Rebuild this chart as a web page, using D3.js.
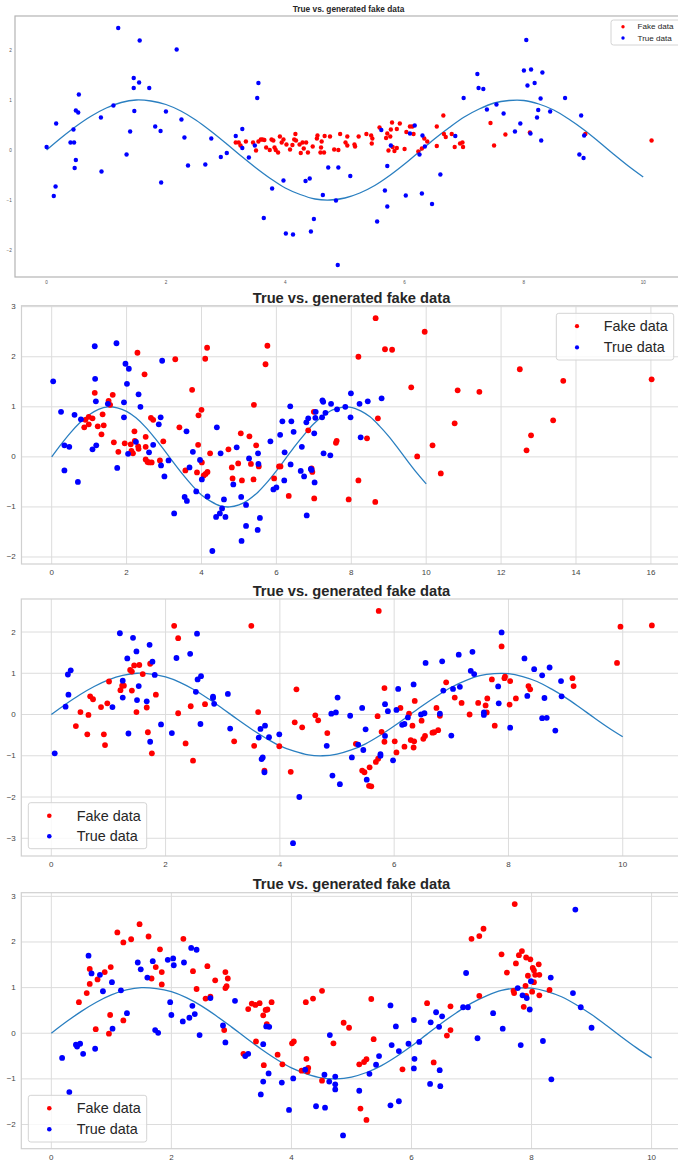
<!DOCTYPE html>
<html><head><meta charset="utf-8">
<script src="https://cdn.jsdelivr.net/npm/d3@7"></script>
<style>
body{margin:0;background:#fff}
svg{display:block;font-family:"Liberation Sans",Arial,sans-serif}
</style>
</head><body>
<svg id="chart" width="678" height="1162"></svg>
<script>
// Reference curve y = sin(x), sampled every 0.25
const curveX = [0,0.25,0.5,0.75,1,1.25,1.5,1.75,2,2.25,2.5,2.75,3,3.25,3.5,3.75,4,4.25,4.5,4.75,5,5.25,5.5,5.75,6,6.25,6.5,6.75,7,7.25,7.5,7.75,8,8.25,8.5,8.75,9,9.25,9.5,9.75,10];
const curveY = [0,0.25,0.48,0.68,0.84,0.95,1.00,0.98,0.91,0.78,0.60,0.38,0.14,-0.11,-0.35,-0.57,-0.76,-0.89,-0.98,-1.00,-0.96,-0.86,-0.71,-0.51,-0.28,-0.03,0.22,0.45,0.66,0.82,0.94,0.99,0.99,0.92,0.80,0.62,0.41,0.17,-0.08,-0.32,-0.54];

// Panel 1 (early training)
const fake1 = [[3.17,0.15],[3.22,0.15],[3.25,0.09],[3.34,0.17],[3.46,0.15],[3.51,-0.01],[3.55,0.17],[3.59,0.21],[3.62,0.21],[3.65,0.2],[3.68,0.05],[3.74,0],[3.77,0.21],[3.8,0.19],[3.82,0.05],[3.84,0],[3.88,-0.05],[3.91,0.27],[3.94,0.15],[3.97,0.21],[4.02,0.11],[4.08,0.01],[4.12,0.1],[4.15,0.21],[4.17,0.32],[4.18,0.19],[4.24,0.11],[4.26,-0.06],[4.29,0.15],[4.31,0.03],[4.35,0.15],[4.38,-0.05],[4.46,0.07],[4.53,0.23],[4.54,0.29],[4.59,-0.05],[4.6,0.05],[4.61,0.17],[4.65,-0.05],[4.66,0.28],[4.75,0.27],[4.82,0.01],[4.89,0],[4.92,0.32],[5.01,0.15],[5.04,0.27],[5.04,0.09],[5.16,0.11],[5.17,0.07],[5.23,0.27],[5.36,0.32],[5.44,0.29],[5.46,0.23],[5.45,0.13],[5.58,0.45],[5.69,0.24],[5.71,0.33],[5.73,-0.01],[5.76,0.27],[5.77,0.41],[5.79,0.55],[5.8,0.06],[5.83,-0.02],[5.87,0.04],[5.87,0.42],[5.92,0.53],[6,0.02],[6.03,0.36],[6.09,0.47],[6.13,0.47],[6.15,0.32],[6.23,-0.03],[6.29,0.03],[6.33,0.23],[6.38,0.17],[6.54,0.08],[6.54,0.47],[6.65,0.69],[6.66,0.32],[6.69,0.26],[6.79,0.32],[6.84,0.06],[6.93,0.13],[6.97,0.15],[6.98,0.06],[7.44,0.54],[7.5,0.09],[7.69,0.31],[8.1,0.35],[9.03,0.32],[10.14,0.19]];
const true1 = [[0,0.06],[0.12,-0.92],[0.15,-0.73],[0.16,0.53],[0.4,0.15],[0.46,0.15],[0.45,0.41],[0.49,0.79],[0.53,0.75],[0.54,1.11],[0.49,-0.2],[0.47,-0.36],[0.91,0.65],[0.92,-0.43],[1.12,0.89],[1.2,2.44],[1.34,-0.09],[1.4,0.37],[1.46,1.44],[1.46,1.24],[1.47,0.78],[1.55,1.35],[1.56,2.19],[1.72,1.24],[1.82,0.47],[1.91,0.38],[1.92,-0.65],[2,0.77],[2.18,2.01],[2.26,0.61],[2.31,0.25],[2.37,-0.31],[2.66,-0.29],[2.76,0.23],[2.92,-0.14],[3.02,-0.06],[3.17,0.28],[3.28,0.42],[3.28,0.04],[3.39,-0.15],[3.49,0.09],[3.53,1.04],[3.55,1.34],[3.64,-1.36],[3.78,-0.77],[3.97,-0.61],[4.01,-1.67],[4.13,-1.69],[4.34,-0.62],[4.41,-0.57],[4.43,-1.63],[4.48,-1.38],[4.63,-0.9],[4.72,-0.35],[4.85,-1.01],[4.88,-2.3],[4.89,-0.35],[5.09,-0.52],[5.54,-1.43],[5.61,0.4],[5.67,-0.81],[5.71,-1.13],[5.71,-0.32],[5.77,0.09],[6.02,-0.91],[6.09,0.33],[6.17,0.49],[6.25,-0.09],[6.29,-0.87],[6.3,0.29],[6.34,0.07],[6.46,-1.08],[6.6,-0.49],[6.85,0.28],[6.99,1.04],[7.22,1.52],[7.24,1.24],[7.32,1.22],[7.38,0.81],[7.54,0.91],[7.66,0.73],[7.85,0.37],[7.94,0.53],[8,1.59],[8.04,2.2],[8.06,1.29],[8.11,0.33],[8.12,1.61],[8.18,1.34],[8.22,0.65],[8.24,0.8],[8.28,1.03],[8.29,0.19],[8.31,1.55],[8.44,0.77],[8.69,1.04],[8.93,-0.09],[8.96,0.69],[9,-0.16],[9.01,0.29]];

// Panel 2
const fake2 = [[0.87,0.59],[0.9,0.74],[0.99,0.65],[0.99,0.8],[1.09,0.77],[1.15,1.28],[1.23,0.61],[1.33,0.45],[1.36,0.85],[1.39,0.63],[1.52,1.12],[1.56,1.04],[1.63,1.24],[1.66,0.29],[1.78,0.1],[1.95,0.27],[2.11,0.25],[2.13,0.12],[2.17,0.07],[2.21,0.51],[2.22,0.32],[2.29,2.08],[2.31,0.21],[2.32,0.16],[2.48,1.65],[2.51,0.4],[2.51,0.2],[2.51,-0.05],[2.56,-0.1],[2.6,-0.11],[2.65,0.78],[2.67,-0.11],[2.71,0.74],[2.89,-0.07],[2.98,0.31],[3.3,1.95],[3.41,0.59],[3.57,-0.27],[3.75,1.34],[3.88,-0.31],[3.91,0.24],[3.92,0.83],[4,0.94],[4.01,-0.11],[4.06,-0.37],[4.1,1.96],[4.11,-0.34],[4.15,2.18],[4.16,-0.3],[4.23,0.07],[4.72,0.15],[4.81,-0.21],[4.83,-0.43],[4.98,-0.13],[5.05,0.47],[5.08,-0.47],[5.28,0.41],[5.32,-0.14],[5.39,-0.45],[5.4,1.04],[5.46,0.23],[5.53,-0.19],[5.71,1.85],[5.76,2.22],[5.94,-0.43],[6.07,-0.19],[6.11,-0.19],[6.33,-0.78],[6.85,0.53],[6.94,-0.23],[6.96,-0.3],[7,0.9],[7.01,-0.83],[7.59,0.28],[7.61,0.32],[7.93,-0.85],[8.19,2],[8.19,-0.47],[8.42,0.37],[8.65,2.77],[8.64,-0.9],[8.71,0.77],[8.9,2.15],[9.09,2.14],[9.6,1.39],[9.76,0.01],[9.96,2.5],[10.17,0.23],[10.39,-0.33],[10.76,0.67],[10.84,1.33],[11.42,1.3],[12.5,1.75],[12.68,0.13],[12.8,0.43],[13.39,0.73],[13.66,1.52],[16.02,1.55]];
const true2 = [[0.04,1.51],[0.25,0.9],[0.34,0.23],[0.34,-0.27],[0.47,0.2],[0.61,0.84],[0.7,-0.5],[0.78,0.75],[1.09,0.15],[1.15,2.21],[1.16,1.56],[1.18,1.11],[1.19,0.23],[1.5,1.06],[1.73,2.27],[1.75,-0.22],[1.93,1.09],[1.93,0.79],[1.97,1.86],[2.01,1.46],[2.04,0.06],[2.06,1.76],[2.25,0.3],[2.32,1.25],[2.37,1],[2.6,0.09],[2.71,0.24],[2.86,0.65],[2.91,0.79],[2.92,-0.17],[2.95,1.92],[3.01,-0.39],[3.12,-0.07],[3.27,-1.13],[3.55,-0.8],[3.6,0.51],[3.61,-0.88],[3.68,-0.21],[3.77,0.1],[3.86,-0.69],[3.96,-0.06],[4.01,-0.45],[4.16,-0.79],[4.29,-1.88],[4.39,-1.2],[4.41,0.59],[4.49,-1.13],[4.51,0.07],[4.55,-1.03],[4.6,-0.85],[4.64,-1.2],[4.85,-0.55],[4.94,0.19],[5.06,-0.8],[5.07,-1.68],[5.19,-0.96],[5.19,-1.38],[5.27,-0.03],[5.5,-1.46],[5.51,0.07],[5.52,-0.14],[5.56,-1.22],[5.84,0.31],[5.92,-0.65],[6,-0.61],[6.1,0.44],[6.16,0.71],[6.21,-0.47],[6.22,0.09],[6.37,1.01],[6.38,-0.15],[6.4,0.71],[6.46,0.5],[6.65,-0.28],[6.68,0.2],[6.74,-0.39],[6.8,0.69],[6.81,-1.17],[6.85,0.77],[6.92,-0.24],[6.94,-0.26],[7.01,0.47],[7.02,-0.51],[7.04,0.78],[7.05,0.9],[7.22,0.79],[7.23,1.13],[7.25,1.1],[7.26,0.07],[7.31,0.88],[7.44,0.03],[7.46,1.06],[7.62,0.95],[7.84,1],[7.98,0.79],[7.99,1.27],[8.22,1.06],[8.25,0.39],[8.44,1.11],[8.81,1.17]];

// Panel 3
const fake3 = [[0.43,-0.28],[0.51,0.06],[0.63,-0.48],[0.65,-0.01],[0.68,0.44],[0.73,0.37],[0.87,0.18],[0.92,-0.48],[0.94,-0.74],[0.98,0.27],[1.01,0.8],[1.21,0.59],[1.24,0.7],[1.27,0.7],[1.38,1.08],[1.41,1.04],[1.41,0.58],[1.45,1.19],[1.49,0.06],[1.54,1.2],[1.6,0.98],[1.67,0.17],[1.69,-0.43],[1.73,1.23],[1.76,-0.94],[1.83,0.48],[2.15,2.15],[2.22,1.85],[2.22,0.03],[2.35,-0.7],[2.44,0.2],[2.48,-1.12],[2.69,0.25],[3.2,-0.65],[3.5,2.15],[3.55,-0.76],[3.62,0.06],[3.73,-1.36],[3.99,-0.77],[4.19,-1.39],[4.26,-0.19],[4.29,0.61],[4.39,-0.31],[4.62,-0.02],[4.67,-0.14],[4.83,-0.45],[5.33,-0.71],[5.44,-1.36],[5.48,-1.4],[5.56,-1.73],[5.6,-1.74],[5.57,-1.28],[5.68,-1.15],[5.71,-0.04],[5.73,2.51],[5.72,-1.07],[5.78,-0.42],[5.83,0.64],[5.83,-0.66],[6.01,-0.65],[6.04,-0.92],[6.11,0.16],[6.18,-0.78],[6.26,0.02],[6.29,-0.62],[6.32,-0.27],[6.34,-0.8],[6.36,0.33],[6.35,-0.65],[6.48,-0.15],[6.51,-0.59],[6.54,-0.52],[6.67,-0.44],[6.7,-0.43],[6.74,0.16],[6.77,-0.38],[6.8,-0.03],[6.91,0.78],[7.06,0.41],[7.18,0.28],[7.32,0],[7.47,0.28],[7.6,0.22],[7.62,0.05],[7.63,0.39],[7.71,0.85],[7.76,-0.27],[7.88,1.65],[7.93,0.88],[7.94,0.92],[8.02,0.24],[8.03,0.81],[8.13,0.39],[8.35,0.69],[8.38,0.61],[9.12,0.88],[9.14,0.69],[9.9,1.25],[9.96,2.13],[10.51,2.16]];
const true3 = [[0.06,-0.94],[0.25,0.19],[0.29,0.97],[0.3,0.48],[0.34,1.07],[1.07,0.18],[1.2,1.97],[1.25,0.41],[1.25,0.82],[1.33,1.36],[1.35,-0.46],[1.43,1.86],[1.49,1.53],[1.5,0.35],[1.53,0.69],[1.67,0.32],[1.72,1.69],[1.73,-0.66],[1.77,1.28],[1.81,0.96],[1.92,-0.24],[2.11,-0.45],[2.19,1.37],[2.43,1.47],[2.53,0.55],[2.55,1.96],[2.56,0.85],[2.62,0.93],[2.61,-0.23],[2.83,0.4],[2.83,0.43],[2.85,0.26],[3.09,0.5],[3.13,-0.34],[3.63,-0.56],[3.66,-0.35],[3.68,-1.08],[3.7,-1.04],[3.73,-1.4],[3.74,-0.27],[3.81,-0.55],[3.99,-0.48],[4.23,-3.12],[4.34,-2],[4.82,-0.76],[4.9,0.02],[4.92,-1.48],[4.98,0.05],[5.01,0.41],[5.05,-1.69],[5.23,-0.03],[5.26,-1.04],[5.37,-0.73],[5.44,0.16],[5.46,-0.86],[5.5,-0.36],[5.52,-1.58],[5.76,-0.96],[5.76,-1],[5.84,0.25],[5.84,-0.52],[5.89,0.08],[5.98,-1.11],[6.04,0.11],[6.07,0.62],[6.14,-0.25],[6.18,-0.23],[6.24,-0.07],[6.34,0.73],[6.47,0],[6.53,0.03],[6.55,1.25],[6.8,0.02],[6.84,1.29],[6.86,0.58],[7,-0.51],[7.03,0.62],[7.13,1.45],[7.15,0.67],[7.34,1.06],[7.37,1.52],[7.4,0.98],[7.57,-0.01],[7.57,0.05],[7.82,0.68],[7.83,0.27],[7.88,1.99],[8.03,-0.32],[8.28,1.36],[8.33,0.45],[8.45,1.1],[8.59,0.95],[8.59,-0.09],[8.63,0.4],[8.67,-0.08],[8.72,1.14],[8.82,-0.39],[8.92,0.81],[8.93,0.44]];

// Panel 4
const fake4 = [[0.46,0.68],[0.59,0.88],[0.64,1.41],[0.64,1.08],[0.74,0.09],[0.77,1.18],[0.89,1.34],[0.96,-0.01],[0.98,0.4],[0.99,1.45],[1.1,2.21],[1.2,0.28],[1.2,1.99],[1.33,2.06],[1.47,2.39],[1.62,2.12],[1.67,1.2],[1.74,1.45],[1.81,1.84],[1.84,1.34],[1.84,1.07],[2.2,2.07],[2.36,1.36],[2.42,0.97],[2.57,0.76],[2.6,1.47],[2.65,0.8],[2.73,1.16],[2.88,0.07],[2.9,1.34],[2.9,0.99],[2.92,1.03],[2.94,1.2],[3.2,-0.45],[3.28,0.53],[3.34,0.65],[3.4,0.62],[3.41,-0.18],[3.47,0.66],[3.53,0.39],[3.54,-0.7],[3.57,0.51],[3.6,0.52],[3.59,0.2],[3.67,0.68],[3.77,-0.47],[3.85,-0.68],[4.01,-0.22],[4.04,-0.18],[4.17,-0.82],[4.24,0.68],[4.25,-0.56],[4.27,-0.84],[4.28,-0.76],[4.36,0.76],[4.51,-1.04],[4.51,0.93],[4.7,-0.22],[4.87,0.23],[4.96,0.12],[5.13,-0.68],[5.15,-1.65],[5.21,-0.63],[5.25,-0.57],[5.25,-1.9],[5.33,0.75],[5.37,-0.13],[5.85,-0.79],[6.26,0.66],[6.37,-0.64],[6.59,-0.05],[6.65,0.07],[6.65,0.59],[7,2.07],[7.13,2.13],[7.13,0.82],[7.2,2.29],[7.5,1.73],[7.59,1.33],[7.7,0.93],[7.72,2.83],[7.71,0.88],[7.74,1.53],[7.79,1.71],[7.84,1.8],[7.87,0.58],[7.9,1.04],[7.91,1.66],[7.91,0.82],[7.94,1.26],[7.98,1.62],[8.01,0.91],[8.02,1.43],[8.04,1.38],[8.04,1.12],[8.06,1.28],[8.12,1.51],[8.13,1.28],[8.13,0.83],[8.3,0.95]];
const true4 = [[0.18,-0.54],[0.3,-1.29],[0.41,-0.25],[0.43,-0.29],[0.48,-0.23],[0.53,-0.45],[0.62,1.7],[0.67,1.31],[0.73,-0.34],[0.81,1.28],[0.86,0.92],[1.01,1.12],[1.02,0.1],[1.16,0.94],[1.26,0.44],[1.44,1.55],[1.49,1.4],[1.6,1.22],[1.69,1.58],[1.73,0.07],[1.78,0.01],[1.94,1.61],[1.98,0.68],[2,0.4],[2.03,1.64],[2.04,1.49],[2.19,0.26],[2.21,1.55],[2.3,0.34],[2.33,1.87],[2.35,0.6],[2.39,0.42],[2.42,1.83],[2.47,-0.04],[2.65,0.77],[2.86,0.17],[2.9,-0.2],[3.06,0.71],[3.23,-0.5],[3.28,-0.45],[3.49,-1.34],[3.53,-0.24],[3.53,-1.06],[3.58,0.15],[3.62,-0.88],[3.63,0.14],[3.84,-1.08],[3.96,-1.68],[4.03,-0.99],[4.23,-0.8],[4.41,-1.6],[4.55,-0.91],[4.56,-1.63],[4.63,-1.06],[4.64,-0.04],[4.73,-0.95],[4.73,-1.12],[4.73,-1.23],[4.86,-2.24],[5.13,-1.26],[5.3,-0.89],[5.41,-0.69],[5.46,-0.5],[5.65,-1.58],[5.65,0.61],[5.67,-0.26],[5.74,0.15],[5.79,-0.39],[5.79,-1.49],[5.95,-0.23],[6.04,0.29],[6.04,-0.77],[6.05,-0.56],[6.13,-0.19],[6.31,-1.11],[6.32,0.24],[6.41,0.46],[6.46,0.14],[6.47,-0.81],[6.48,-1.16],[6.51,0.37],[6.86,0.57],[6.94,0.57],[6.91,1.32],[7.1,-0.11],[7.36,0.44],[7.52,0.1],[7.77,0.99],[7.82,-0.26],[7.85,0.83],[7.92,0.77],[7.97,0.52],[7.99,1.14],[8.19,-0.17],[8.32,1.22],[8.33,-1.01],[8.69,0.88],[8.73,2.71],[8.82,0.57],[9,0.12]];

const titleText = "True vs. generated fake data";
const legendLabels = ["Fake data", "True data"];
const seriesColors = ["#ff0000", "#0000ff"];

const ticks1x = [0,2,4,6,8,10], ticks1y = [-2,-1,0,1,2];
const ticks2x = [0,2,4,6,8,10,12,14,16], ticks2y = [-2,-1,0,1,2,3];
const ticks3x = [0,2,4,6,8,10], ticks3y = [-3,-2,-1,0,1,2];
const ticks4x = [0,2,4,6,8,10], ticks4y = [-2,-1,0,1,2,3];

// Layout of each stacked figure
const panels = [
  {fake: fake1, real: true1, xt: ticks1x, yt: ticks1y,
   xdom: [-0.53, 10.65], ydom: [-2.54, 2.68], box: {l: 15, r: 682, t: 16, b: 277},
   grid: false, spine: "#b4b4b4", r: 2.2, tickFont: 4.6, tickColor: "#555",
   xLabelDy: 5.2, yLabelX: 11.8,
   title: {size: 8.3, y: 12.3},
   legend: {x: 611, y: 20, w: 80, h: 25, rows: [26.7, 38], mx: 623, tx: 637.5, font: 8.1, mr: 1.7}},
  {fake: fake2, real: true2, xt: ticks2x, yt: ticks2y,
   xdom: [-0.806, 16.82], ydom: [-2.14, 3.02], box: {l: 21.5, r: 681.6, t: 305.7, b: 564},
   grid: true, spine: "#d0d0d0", r: 2.9, tickFont: 8, tickColor: "#444",
   xLabelDy: 8.5, yLabelX: 15.8,
   title: {size: 14.7, y: 302.7},
   legend: {x: 556.3, y: 313.3, w: 117.4, h: 46.7, rows: [326.2, 347.4], mx: 577, tx: 603.7, font: 14.4, mr: 2.1}},
  {fake: fake3, real: true3, xt: ticks3x, yt: ticks3y,
   xdom: [-0.525, 11.03], ydom: [-3.43, 2.80], box: {l: 21.3, r: 681.6, t: 599, b: 856},
   grid: true, spine: "#d0d0d0", r: 2.9, tickFont: 8, tickColor: "#444",
   xLabelDy: 8.5, yLabelX: 15.8,
   title: {size: 14.7, y: 596},
   legend: {x: 28.3, y: 802.7, w: 118.4, h: 46, rows: [815.7, 836.3], mx: 49.3, tx: 76.7, font: 14.4, mr: 2.3}},
  {fake: fake4, real: true4, xt: ticks4x, yt: ticks4y,
   xdom: [-0.5, 10.5], ydom: [-2.53, 3.08], box: {l: 21.3, r: 681.6, t: 892.7, b: 1148.7},
   grid: true, spine: "#d0d0d0", r: 2.9, tickFont: 8, tickColor: "#444",
   xLabelDy: 8.6, yLabelX: 15.8,
   title: {size: 14.7, y: 889.3},
   legend: {x: 28.3, y: 1095.3, w: 118.4, h: 46.7, rows: [1108.3, 1129.3], mx: 49.3, tx: 76.7, font: 14.4, mr: 2.3}}
];

const svg = d3.select("#chart");
const curvePts = curveX.map((x, i) => [x, curveY[i]]);

panels.forEach((p, i) => {
  const x = d3.scaleLinear().domain(p.xdom).range([p.box.l, p.box.r]);
  const y = d3.scaleLinear().domain(p.ydom).range([p.box.b, p.box.t]);
  const g = svg.append("g");

  const clipId = "clip" + i;
  g.append("clipPath").attr("id", clipId).append("rect")
    .attr("x", p.box.l).attr("y", p.box.t)
    .attr("width", p.box.r - p.box.l).attr("height", p.box.b - p.box.t);

  if (p.grid) {
    g.append("g").selectAll("line").data(p.xt).join("line")
      .attr("x1", d => x(d)).attr("x2", d => x(d))
      .attr("y1", p.box.t).attr("y2", p.box.b)
      .attr("stroke", "#dcdcdc").attr("stroke-width", 1);
    g.append("g").selectAll("line").data(p.yt).join("line")
      .attr("x1", p.box.l).attr("x2", p.box.r)
      .attr("y1", d => y(d)).attr("y2", d => y(d))
      .attr("stroke", "#dcdcdc").attr("stroke-width", 1);
  }

  const plot = g.append("g").attr("clip-path", `url(#${clipId})`);
  plot.append("path").datum(curvePts)
    .attr("fill", "none").attr("stroke", "#2a7fc0").attr("stroke-width", 1.3)
    .attr("d", d3.line().x(d => x(d[0])).y(d => y(d[1])).curve(d3.curveCatmullRom));

  plot.append("g").selectAll("circle").data(p.fake).join("circle")
    .attr("cx", d => x(d[0])).attr("cy", d => y(d[1])).attr("r", p.r)
    .attr("fill", seriesColors[0]);
  plot.append("g").selectAll("circle").data(p.real).join("circle")
    .attr("cx", d => x(d[0])).attr("cy", d => y(d[1])).attr("r", p.r)
    .attr("fill", seriesColors[1]);

  // Frame
  g.append("rect")
    .attr("x", p.box.l).attr("y", p.box.t)
    .attr("width", p.box.r - p.box.l).attr("height", p.box.b - p.box.t)
    .attr("fill", "none").attr("stroke", p.spine).attr("stroke-width", 1.2);

  // Tick labels
  const fmt = d => d < 0 ? "\u2212" + Math.abs(d) : String(d);
  g.append("g").selectAll("text").data(p.xt).join("text")
    .attr("x", d => x(d)).attr("y", p.box.b + p.xLabelDy)
    .attr("text-anchor", "middle").attr("dominant-baseline", "central")
    .attr("font-size", p.tickFont).attr("fill", p.tickColor).text(fmt);
  g.append("g").selectAll("text").data(p.yt).join("text")
    .attr("x", p.yLabelX).attr("y", d => y(d))
    .attr("text-anchor", "end").attr("dominant-baseline", "central")
    .attr("font-size", p.tickFont).attr("fill", p.tickColor).text(fmt);

  // Title
  g.append("text")
    .attr("x", (p.box.l + p.box.r) / 2).attr("y", p.title.y)
    .attr("text-anchor", "middle").attr("font-weight", "bold")
    .attr("font-size", p.title.size).attr("fill", "#262626").text(titleText);

  // Legend
  const L = p.legend;
  g.append("rect").attr("x", L.x).attr("y", L.y).attr("width", L.w).attr("height", L.h)
    .attr("rx", 2.5).attr("fill", "#fff").attr("fill-opacity", 0.8)
    .attr("stroke", "#d4d4d4").attr("stroke-width", 1);
  legendLabels.forEach((lab, k) => {
    g.append("circle").attr("cx", L.mx).attr("cy", L.rows[k]).attr("r", L.mr)
      .attr("fill", seriesColors[k]);
    g.append("text").attr("x", L.tx).attr("y", L.rows[k])
      .attr("dominant-baseline", "central").attr("font-size", L.font)
      .attr("fill", "#262626").text(lab);
  });
});
</script>
</body></html>
